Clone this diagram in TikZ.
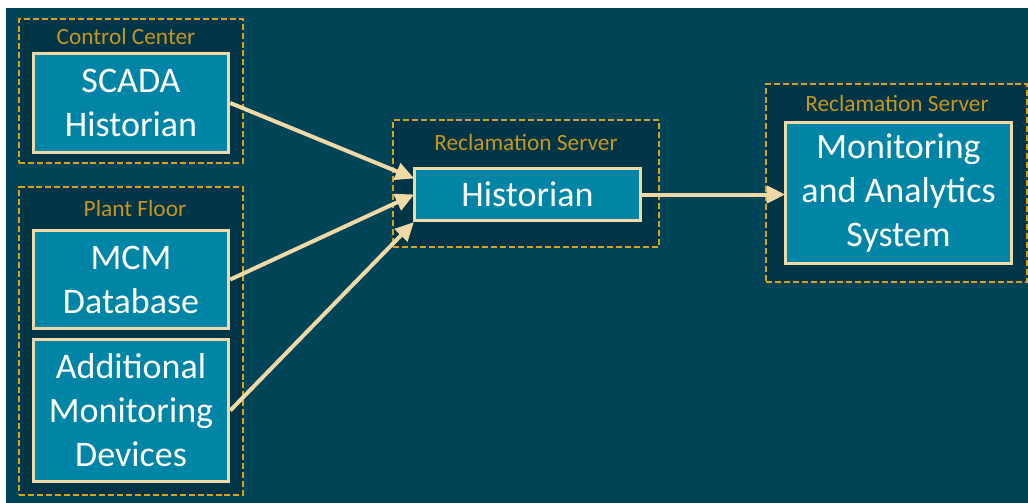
\documentclass[tikz,border=0pt]{standalone}
\usepackage{fontspec}
\setmainfont{Carlito}
\usetikzlibrary{arrows.meta}
\definecolor{bgteal}{HTML}{004457}
\definecolor{contfill}{HTML}{003447}
\definecolor{boxfill}{HTML}{0085A6}
\definecolor{tan}{HTML}{F0D9A4}
\definecolor{gold}{HTML}{D9A21C}
\definecolor{goldtext}{HTML}{C8961E}
\tikzset{
  container/.style={draw=gold, fill=contfill, dash pattern=on 4.5pt off 2.2pt, line width=1.1pt, inner sep=0pt},
  contlabel/.style={text=goldtext, font=\fontsize{17.5}{20}\selectfont, inner sep=0pt},
  mainbox/.style={draw=tan, fill=boxfill, line width=2.4pt, text=white, align=center, inner sep=0pt,
    font=\fontsize{27}{33}\selectfont},
  flow/.style={draw=tan, line width=3pt, -{Triangle[length=14pt,width=13pt]}, shorten >=-1pt},
}
\begin{document}
\begin{tikzpicture}[x=0.75pt,y=-0.75pt]
\useasboundingbox (0,0) rectangle (1028,503);
\fill[white] (0,0) rectangle (1028,503);
\fill[bgteal] (6,8) rectangle (1028,503);
% containers
\node[container, minimum width=168pt, minimum height=108pt] (cc) at (131,91) {};
\node[contlabel] (cclab) at (126,36) {Control Center};
\node[container, minimum width=168pt, minimum height=231pt] (pf) at (131,341) {};
\node[contlabel] (pflab) at (135,208) {Plant Floor};
\node[container, minimum width=199.5pt, minimum height=95.25pt] (hc) at (526,183.5) {};
\node[contlabel] (hclab) at (526,142) {Reclamation Server};
\node[container, minimum width=195.75pt, minimum height=148.5pt] (mc) at (896.5,183) {};
\node[contlabel] (mclab) at (897,103) {Reclamation Server};
% boxes
\node[mainbox, minimum width=146.5pt, minimum height=74.5pt] (scada) at (131,103) {SCADA\\Historian};
\node[mainbox, minimum width=146.5pt, minimum height=73.5pt] (mcm) at (131,279.5) {MCM\\Database};
\node[mainbox, minimum width=146.5pt, minimum height=106.5pt] (add) at (131,410.5) {Additional\\Monitoring\\Devices};
\node[mainbox, minimum width=169.5pt, minimum height=39pt] (hist) at (527.5,194.5) {Historian};
\node[mainbox, minimum width=169.5pt, minimum height=106pt] (mon) at (898.5,193) {Monitoring\\and Analytics\\System};
% arrow end points
\coordinate (h1) at (413,178);
\coordinate (h2) at (413,195);
\coordinate (h3) at (413,223);
\draw[flow] (scada.east) -- (h1);
\draw[flow] (mcm.east) -- (h2);
\draw[flow] (add.east) -- (h3);
\draw[flow] (hist.east) -- (hist.east -| mon.west);
\end{tikzpicture}
\end{document}
